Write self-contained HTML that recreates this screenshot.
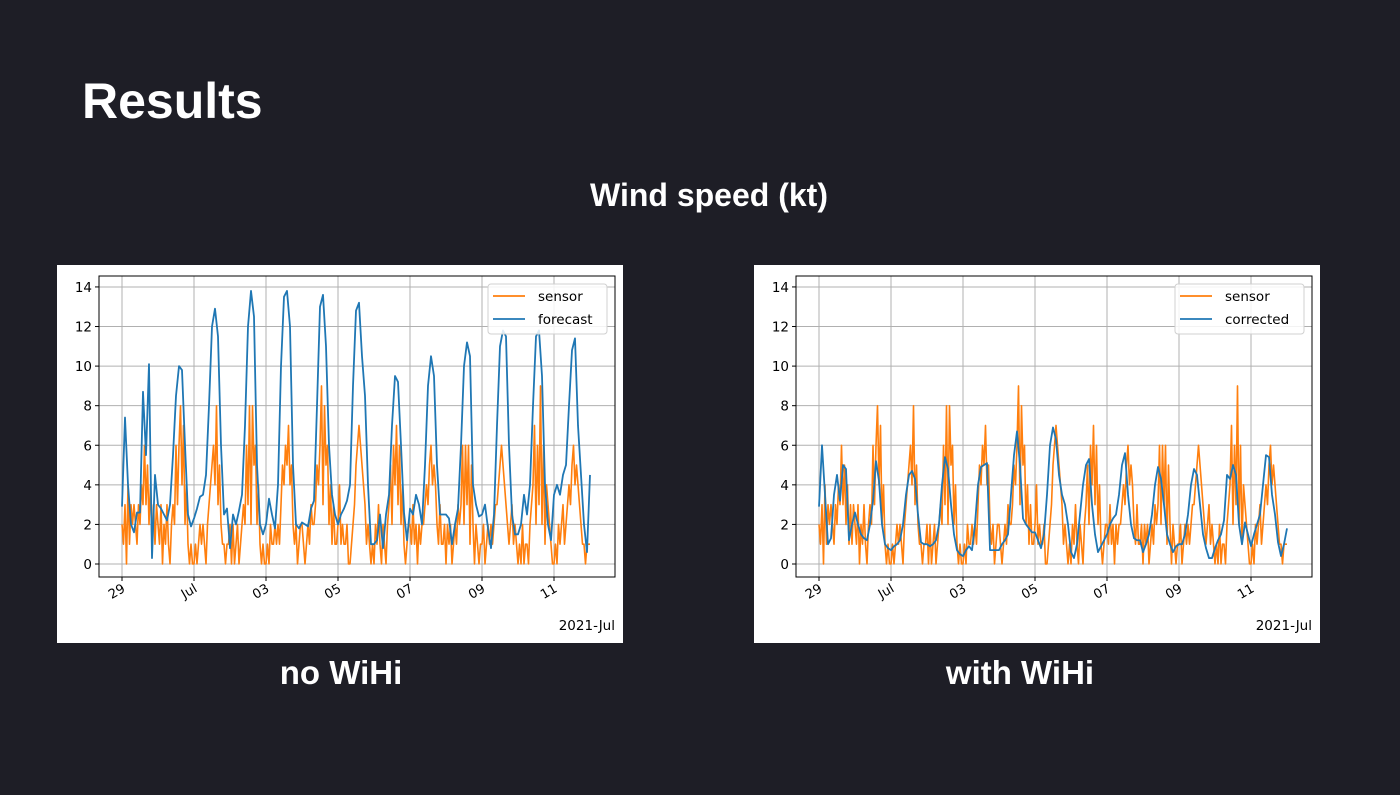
<!DOCTYPE html>
<html><head><meta charset="utf-8"><style>
html,body{margin:0;padding:0;background:#1e1e26;}
svg{display:block;}
</style></head><body>
<svg id="page" width="1400" height="795" viewBox="0 0 1400 795" xmlns="http://www.w3.org/2000/svg">
<rect width="1400" height="795" fill="#1e1e26"/>
<text x="82" y="118" fill="#fff" font-family="Liberation Sans, sans-serif" font-weight="bold" font-size="50">Results</text>
<text x="709" y="206" fill="#fff" text-anchor="middle" font-family="Liberation Sans, sans-serif" font-weight="bold" font-size="32">Wind speed (kt)</text>
<text x="341" y="684" fill="#fff" text-anchor="middle" font-family="Liberation Sans, sans-serif" font-weight="bold" font-size="33">no WiHi</text>
<text x="1020" y="684" fill="#fff" text-anchor="middle" font-family="Liberation Sans, sans-serif" font-weight="bold" font-size="33">with WiHi</text>
<g id="left"></g>
<g id="right"></g>
</svg>
<script>
// hourly sensor values (kt), starting Jun 29 00:00
const sensor = [
2,1,3,0,4,1,3,2,3,2,1,3,2,4,3,6,3,5,2,4,1,3,1,3,
2,1,3,0,2,1,3,1,0,2,3,2,6,3,6,8,4,7,2,4,1,0,1,0,
0,1,0,1,2,1,2,1,0,2,3,4,5,6,4,8,3,5,2,1,1,0,1,1,
2,0,2,0,1,2,0,1,2,3,2,6,3,8,2,8,5,6,2,4,1,0,1,0,
0,1,0,2,1,1,2,1,2,1,3,5,4,6,5,7,4,5,2,1,2,0,1,2,
2,1,0,1,2,1,3,2,2,3,5,4,6,9,3,8,5,6,2,4,1,3,1,1,
2,4,1,2,1,1,2,0,0,1,2,3,5,6,7,6,5,4,3,1,2,1,0,1,
0,2,1,3,1,0,2,1,0,2,3,5,2,6,4,7,3,6,2,4,1,0,1,2,
2,1,3,1,2,0,2,1,2,2,3,4,3,5,6,4,5,4,2,1,3,1,1,2,
0,2,1,2,0,1,2,1,3,2,3,6,2,6,3,6,1,5,2,0,2,1,0,1,
1,2,0,1,2,1,2,1,2,3,3,4,5,6,5,4,3,2,1,2,3,1,2,1,
0,1,0,2,0,1,1,0,2,3,4,7,2,6,3,9,2,6,1,4,3,2,1,0,
0,1,0,2,1,2,3,1,2,3,4,3,5,6,4,5,4,3,2,1,1,0,1,1,
1];
// 2-hourly forecast values
const forecast = [
2.9,7.4,4.0,2.0,1.6,2.6,2.6,8.7,5.5,10.1,0.3,4.5,
3.0,2.8,2.5,2.2,3.0,5.5,8.5,10.0,9.8,6.0,2.5,1.9,
2.3,2.8,3.4,3.5,4.5,8.0,12.0,12.9,11.5,6.0,2.5,2.8,
0.8,2.5,2.0,2.7,3.5,7.0,12.0,13.8,12.5,5.0,2.0,1.5,
2.0,3.3,2.5,1.8,4.0,10.0,13.5,13.8,12.0,5.0,2.0,1.8,
2.1,2.0,1.9,2.8,3.2,8.0,13.0,13.6,11.0,6.0,3.5,2.5,
2.0,2.5,2.8,3.2,4.0,9.0,12.8,13.2,10.5,8.5,4.0,1.0,
1.0,1.2,2.5,0.8,2.5,3.5,7.0,9.5,9.2,6.0,2.6,1.2,
2.8,2.5,3.5,3.0,2.0,5.0,9.0,10.5,9.5,5.0,2.5,2.5,
2.5,2.3,1.0,2.0,2.8,6.0,10.0,11.2,10.5,4.0,3.0,2.4,
2.5,3.0,1.8,0.8,2.5,7.0,11.0,11.8,11.5,6.0,2.5,1.5,
1.5,2.0,3.5,2.5,4.0,8.0,11.5,11.8,9.5,4.0,2.0,1.2,
3.5,4.0,3.5,4.5,5.0,8.0,10.8,11.4,7.0,4.5,2.0,0.6,
4.5];
// 2-hourly corrected values
const corrected = [
2.9,6.0,3.5,1.0,1.3,3.5,4.5,3.2,5.0,4.8,1.2,2.0,
2.6,2.0,1.5,1.3,1.2,2.0,3.2,5.2,4.2,2.0,1.0,0.8,
0.7,0.9,1.0,1.2,2.0,3.5,4.5,4.7,4.3,2.5,1.1,1.0,
1.0,0.9,1.0,1.2,2.0,4.0,5.4,4.8,3.0,1.5,0.7,0.5,
0.4,0.7,0.9,0.7,2.0,4.0,4.9,5.0,5.1,0.7,0.7,0.7,
0.7,1.0,1.2,1.5,3.5,5.5,6.7,5.0,2.3,2.0,1.8,1.6,
1.6,1.2,0.8,1.5,3.5,6.0,6.9,6.3,4.5,3.5,3.0,2.0,
0.6,0.3,1.0,2.5,4.0,5.0,5.3,3.0,1.5,0.6,0.9,1.2,
1.5,2.0,2.3,2.5,3.5,5.0,5.6,3.5,2.0,1.3,1.2,1.2,
0.6,1.0,1.5,2.5,4.0,4.9,4.3,3.0,1.5,1.0,0.6,0.9,
1.0,1.0,1.5,2.5,4.0,4.8,4.5,3.0,1.5,0.8,0.3,0.3,
0.8,1.2,1.5,2.2,4.5,4.3,5.0,4.5,2.0,1.0,2.1,1.5,
0.9,1.5,2.0,2.5,4.0,5.5,5.4,3.5,2.5,1.1,0.4,1.0,
1.8];
const yTicks = [0,2,4,6,8,10,12,14];
const xTickDays = [0,2,4,6,8,10,12];
const xTickLabels = ["29","Jul","03","05","07","09","11"];

const NS = "http://www.w3.org/2000/svg";
function mk(tag, attrs, parent){
  const e = document.createElementNS(NS, tag);
  for (const k in attrs) e.setAttribute(k, attrs[k]);
  parent.appendChild(e);
  return e;
}
function drawPanel(g, ox, blue, blueStep, blueLabel){
  const X = d => ox + 122 + d * 36.0;
  const Y = v => 564 - v * 19.79;
  const L = ox + 99, R = ox + 615, T = 276, B = 577;
  const panel = mk('rect', {x: ox + 57, y: 265, width: 566, height: 378, fill: '#fff'}, g);
  
  
  yTicks.forEach(v => {
    const gl = mk('line', {x1: L, x2: R, y1: Y(v), y2: Y(v), stroke: '#b0b0b0', 'stroke-width': 1}, g);
    
    
    mk('line', {x1: L - 4, x2: L, y1: Y(v), y2: Y(v), stroke: '#000', 'stroke-width': 1}, g);
    const t = mk('text', {x: L - 7, y: Y(v) + 5, 'text-anchor': 'end', 'font-family': 'DejaVu Sans, sans-serif', 'font-size': 13.5, fill: '#000'}, g);
    t.textContent = v;
    
    
  });
  xTickDays.forEach((d, i) => {
    const gl = mk('line', {x1: X(d), x2: X(d), y1: T, y2: B, stroke: '#b0b0b0', 'stroke-width': 1}, g);
    
    
    mk('line', {x1: X(d), x2: X(d), y1: B, y2: B + 4, stroke: '#000', 'stroke-width': 1}, g);
    const t = mk('text', {x: X(d) + 4, y: B + 14, 'text-anchor': 'end', 'font-family': 'DejaVu Sans, sans-serif', 'font-size': 13, fill: '#000', transform: `rotate(-30 ${X(d) + 4} ${B + 14})`}, g);
    t.textContent = xTickLabels[i];
    
    
  });
  const off = mk('text', {x: R, y: 630, 'text-anchor': 'end', 'font-family': 'DejaVu Sans, sans-serif', 'font-size': 13.5, fill: '#000'}, g);
  off.textContent = '2021-Jul';
  
  
  const sp = sensor.map((v, i) => `${X(i / 24).toFixed(2)},${Y(v).toFixed(2)}`).join(' ');
  const s = mk('polyline', {points: sp, fill: 'none', stroke: '#ff7f0e', 'stroke-width': 1.6, 'stroke-linejoin': 'round'}, g);
  
  
  const bp = blue.map((v, i) => `${X(i * blueStep).toFixed(2)},${Y(v).toFixed(2)}`).join(' ');
  const b = mk('polyline', {points: bp, fill: 'none', stroke: '#1f77b4', 'stroke-width': 1.8, 'stroke-linejoin': 'round'}, g);
  
  
  const frame = mk('rect', {x: L, y: T, width: R - L, height: B - T, fill: 'none', stroke: '#000', 'stroke-width': 1}, g);
  
  
  const lw = blueLabel === 'forecast' ? 119 : 129;
  const lx = R - 8 - lw;
  const lg = mk('g', {}, g);
  
  
  mk('rect', {x: lx, y: 284, width: lw, height: 50, rx: 3, fill: '#fff', 'fill-opacity': 0.85, stroke: '#d0d0d0'}, lg);
  [['sensor', '#ff7f0e', 296], [blueLabel, '#1f77b4', 319]].forEach(([name, col, yy]) => {
    const e = mk('g', {}, lg);
    
    
    mk('line', {x1: lx + 5, x2: lx + 37, y1: yy, y2: yy, stroke: col, 'stroke-width': 1.8}, e);
    const t = mk('text', {x: lx + 50, y: yy + 5, 'font-family': 'DejaVu Sans, sans-serif', 'font-size': 13.5, fill: '#000'}, e);
    t.textContent = name;
  });
}
drawPanel(document.getElementById('left'), 0, forecast, 1 / 12, 'forecast');
drawPanel(document.getElementById('right'), 697, corrected, 1 / 12, 'corrected');
</script>
</body></html>
